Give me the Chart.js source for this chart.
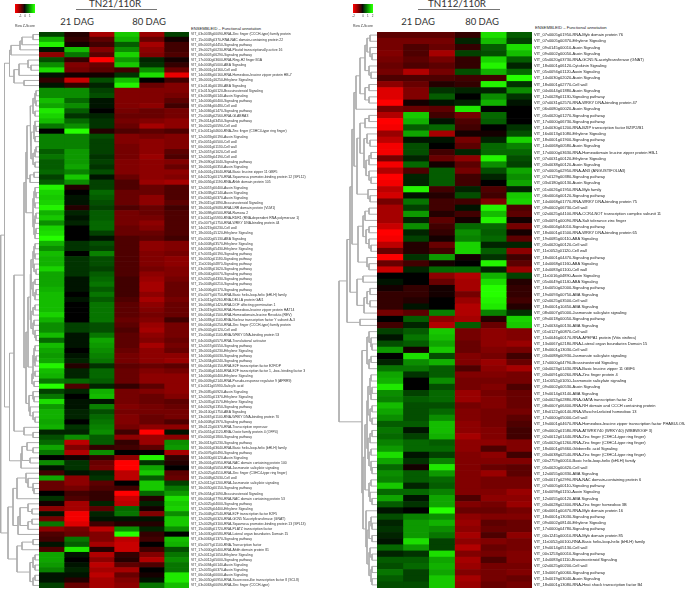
<!DOCTYPE html>
<html>
<head>
<meta charset="utf-8">
<title>TN21/110R and TN112/110R heatmaps</title>
<script src="https://cdn.jsdelivr.net/npm/chart.js@4"></script>
<style>
  html, body { margin: 0; padding: 0; background: #fff; }
  #page { position: relative; width: 685px; height: 589px; overflow: hidden; font-family: Lato, sans-serif; color: #333; }
  canvas { position: absolute; }
  .txt { position: absolute; white-space: nowrap; line-height: 1; }
  .title { font-size: 9.8px; transform: translateX(-50%); }
  .dag { font-size: 9.5px; transform: translateX(-50%); }
  .head { font-size: 4.1px; color: #222; font-family: "Liberation Sans", sans-serif; }
  .rule { position: absolute; height: 1px; background: #777; }
</style>
</head>
<body>
<div id="page">
  <div class="txt title" style="left:115px;top:-1px">TN21/110R</div>
  <div class="rule" style="left:76px;top:9px;width:81px"></div>
  <div class="txt dag" style="left:77px;top:17px">21 DAG</div>
  <div class="txt dag" style="left:149px;top:17px">80 DAG</div>
  <div class="txt head" style="left:191px;top:27px">ENSEMBLEID – Functional annotation</div>

  <div class="txt title" style="left:457px;top:-1px">TN112/110R</div>
  <div class="rule" style="left:418px;top:9px;width:82px"></div>
  <div class="txt dag" style="left:418px;top:17px">21 DAG</div>
  <div class="txt dag" style="left:482px;top:17px">80 DAG</div>
  <div class="txt head" style="left:535px;top:26px;font-size:4.2px">ENSEMBLEID – Functional annotation</div>
</div>
<script>
const leftLabels = [
  'VIT_03s0038g00090-RNA-Zinc finger (CCCH-type) family protein','VIT_15s0048g0370-RNA-NAC domain-containing protein 22','VIT_08s0007g04450-Signaling pathway','VIT_19s0027g00230-RNA-Plastid transcriptionally active 16','VIT_08s0007g06290-Signaling pathway','VIT_17s0000g03600-RNA-Ring-H2 finger B1A','VIT_04s0008g05000-ABA Signaling','VIT_18s0001g14160-Cell wall','VIT_14s0083g00160-RNA-Homeobox-leucine zipper protein HB-7','VIT_18s0001g16250-Ethylene Signaling',
  'VIT_01s0146g00180-ABA Signaling','VIT_01s0150g00120-Brassinosteroid Signaling','VIT_03s0038g00140-Auxin Signaling','VIT_14s0006g00400-Signaling pathway','VIT_05s0094g00480-Cell wall','VIT_14s0066g01470-Signaling pathway','VIT_25s0048g02560-RNA-GLABRA3','VIT_19s0014g03450-Signaling pathway','VIT_16s0022g00590-Cell wall','VIT_01s0011g04600-RNA-Zinc finger (C3HC4-type ring finger)',
  'VIT_12s0059g00190-Auxin Signaling','VIT_05s0051g00500-Cell wall','VIT_00s0001g01130-Cell wall','VIT_12s0057g01020-Cell wall','VIT_12s0059g04190-Cell wall','VIT_19s0090g01040-Signaling pathway','VIT_16s0001g00350-Auxin Signaling','VIT_04s0001g13040-RNA-Basic leucine zipper 11 GBF5','VIT_04s0210g00170-RNA-Squamosa promoter-binding protein 12 (SPL12)','VIT_06s0056g01190-RNA-Ahbh domain protein 105',
  'VIT_12s0057g00400-Auxin Signaling','VIT_03s0038g02140-Auxin Signaling','VIT_05s0062g00370-Auxin Signaling','VIT_19s0015g01890-Brassinosteroid Signaling','VIT_18s0001g09080-RNA-LRR domain protein (VLM1)','VIT_16s0098g00500-RNA-Ramosa 2','VIT_01s0011g05930-RNA-RDR1 (RNA-dependent RNA polymerase 1)','VIT_05s0077g01750-RNA-WRKY DNA-binding protein 44','VIT_14s0219g00230-Cell wall','VIT_18s0001g15120-Ethylene Signaling',
  'VIT_05s0020g05130-ABA Signaling','VIT_04s0008g03570-Ethylene Signaling','VIT_04s0008g05430-Ethylene Signaling','VIT_07s0031g00190-Signaling pathway','VIT_16s0050g01180-Signaling pathway','VIT_11s0016g04870-Signaling pathway','VIT_03s0038g01620-Signaling pathway','VIT_08s0040g00070-Signaling pathway','VIT_02s0025g04330-Signaling pathway','VIT_15s0048g00210-Signaling pathway',
  'VIT_14s0006g00170-Signaling pathway','VIT_05s0077g00750-RNA-Basic helix-loop-helix (bHLH) family','VIT_01s0011g05260-RNA-DELLA protein GAI1','VIT_16s0098g01420-RNA-DOF affecting germination 1','VIT_13s0019g00260-RNA-Homeobox-leucine zipper protein HAT14','VIT_06s0004g01500-RNA-Homeodomain-leucine Revoluta (REV)','VIT_14s0083g01140-RNA-Nuclear transcription factor Y subunit A-3','VIT_06s0004g00250-RNA-Zinc finger (CCCH-type) family protein','VIT_09s0002g00120-Cell wall','VIT_15s0046g01140-RNA-WRKY DNA-binding protein 53',
  'VIT_04s0043g00570-RNA-Translational activator','VIT_12s0057g00550-Signaling pathway','VIT_18s0001g00230-Ethylene Signaling','VIT_14s0006g00030-Signaling pathway','VIT_12s0034g00240-Signaling pathway','VIT_06s0054g00150-RNA-E2F transcription factor E2F/DP','VIT_15s0046g01440-RNA-E2F transcription factor 1, -box- binding factor 3','VIT_14s0006g00400-Ethylene Signaling','VIT_06s0009g02140-RNA-Pseudo-response regulator 9 (APRR9)','VIT_01s0011g05930-Salicylic acid',
  'VIT_19s0085g00920-Auxin Signaling','VIT_12s0055g01370-Ethylene Signaling','VIT_12s0035g01570-Ethylene Signaling','VIT_04s0023g01350-Signaling pathway','VIT_16s0100g01750-ABA Signaling','VIT_13s0067g01140-RNA-WRKY DNA-binding protein 70','VIT_04s0008g01970-Signaling pathway','VIT_18s0122g00370-RNA-Transcription repressor','VIT_05s0051g01120-RNA-Ovate family protein 4 (OFP4)','VIT_05s0002g01800-Signaling pathway',
  'VIT_16s0013g05230-Signaling pathway','VIT_16s0001g03640-RNA-Basic helix-loop-helix (bHLH) family','VIT_05s0076g00490-Signaling pathway','VIT_14s0030g00120-Auxin Signaling','VIT_18s0001g05950-RNA-NAC domain containing protein 100','VIT_06s0004g05050-RNA-Jasmonate salicylate signaling','VIT_02s0025g04510-RNA-Zinc finger (C3HC4-type ring finger)','VIT_15s0048g02030-Cell wall','VIT_02s0012g01200-RNA-Jasmonate salicylate signaling','VIT_16s0050g00150-Signaling pathway',
  'VIT_09s0054g01090-Brassinosteroid Signaling','VIT_06s0004g07790-RNA-NAC domain containing protein 53','VIT_02s0025g04000-Signaling pathway','VIT_12s0028g04400-Ethylene Signaling','VIT_15s0048g02540-RNA-E2F transcription factor E2F5','VIT_12s0028g00320-RNA-GCN5 N-acetyltransferase (GNAT)','VIT_12s0028g03100-RNA-Squamosa promoter-binding protein 13 (SPL13)','VIT_15s0048g01720-RNA-PLATZ transcription factor','VIT_14s0030g00580-RNA-Lateral organ boundaries Domain 15','VIT_03s0063g01370-Signaling pathway',
  'VIT_05s0077g01140-RNA-Transcription factor','VIT_17s0000g05400-RNA-Ahbh domain protein 81','VIT_02s0012g01050-Ethylene Signaling','VIT_02s0012g05000-Signaling pathway','VIT_05s0094g00140-Auxin Signaling','VIT_12s0055g00370-Auxin Signaling','VIT_06s0004g00000-Auxin Signaling','VIT_16s0050g00950-RNA-Scarecrow-like transcription factor 8 (SCL8)','VIT_03s0063g00090-RNA-Zinc finger (CCCH-type)'
];

// row z-scores, six columns (21 DAG x3, 80 DAG x3)
const leftZ = [
  [.4,-.2,-1.2,1.5,-1.1,.4],[1.3,-.3,-.6,1.3,-.7,-.1],[1.9,-.1,-.4,.6,-1.2,-.4],[.1,1.4,-.9,1.0,-1.0,-.4],[-1.0,.8,-.6,1.6,-.9,-.5],[.5,-.3,-2,1.1,.2,-.1],[1.0,-.9,-.7,1.5,.3,-.3],[1.7,-.8,-.6,-.4,1.0,-.7],[.1,-.1,-.1,.3,1.7,-1.8],[-.3,-1.5,.5,1.4,0,-.4],
  [.1,-.3,.2,1.9,-.7,-.9],[1.0,1.0,.4,-.9,-.9,-.9],[1.0,1.0,.5,-.9,-.9,-.8],[1.4,.7,.1,-.9,-.9,-.6],[1.2,1.0,.1,-.9,-1.0,-.4],[1.8,.6,0,-.8,-.7,-.8],[1.6,.3,.2,-.7,-.7,-.8],[1.4,.7,.3,-.8,-.9,-1],[.8,1.0,.3,-.7,-1.2,-1],[0,2,-.2,-.5,-.6,-.5],
  [.9,.9,.5,-.9,-.8,-.9],[.9,.9,.4,-.9,-1,-.9],[.9,.9,.4,-.8,-1,-.9],[.6,1.1,.4,-.8,-1,-.6],[.8,1.1,.3,-.8,-1.1,-.5],[.6,1.1,.4,-.9,-1,-.9],[.6,1.2,.3,-.9,-1,-.7],[.7,.9,.5,-.9,-1,-1],[.4,1.5,.1,-.7,-1,-.9],[.6,1.0,.4,-.5,-1.1,-1.2],
  [1.9,-.2,.4,-.5,-.7,-.5],[1.6,0,.7,-.7,-.7,-.5],[1.5,.1,.6,-.7,-1,-.5],[1.6,.1,.5,-.7,-1,-.6],[1.9,-.2,.4,-.5,-.7,-.4],[1.3,.2,.6,-.8,-.7,-.5],[1.5,.1,.6,-.8,-.8,-.5],[1.0,.2,.7,-.8,-1,-.5],[1.6,0,.7,-.7,-.9,-.5],[1.7,0,.4,-.7,-.7,-.5],
  [2,0,.1,-.5,-.6,-.4],[1.3,.3,.5,-.5,-1,-.9],[1.0,.3,.4,-.5,-1,-.9],[1.4,0,.9,-.5,-.9,-.8],[1.3,.3,.5,-.5,-.9,-1],[1.3,.3,.5,-.5,-.9,-1],[1.6,.3,.4,-.5,-.8,-.9],[1.2,.3,.6,-.5,-1,-.9],[1.2,.1,.7,-.4,-1.1,-.8],[1.2,.1,.8,-.4,-1.2,-.7],
  [1.3,.1,.6,-.4,-1.2,-.7],[1.4,0,.8,-.4,-1,-.7],[1.4,.1,.6,-.5,-1.2,-.8],[1.4,0,.8,-.6,-1,-.7],[1.4,0,.8,-.6,-.9,-.7],[1.6,0,.8,-.6,-.8,-.7],[1.3,0,.8,-.7,-.9,-.4],[1.0,.4,.5,-.6,-1.1,-.8],[1.0,.4,.5,-.5,-1.2,-.8],[1.4,.1,.8,-.6,-1,-.8],
  [.7,.1,1.2,-.6,-.9,-.7],[1.4,.1,1.1,-.6,-1.2,-.8],[1.2,0,1.0,-.7,-1,-.7],[1.1,.1,.9,-.8,-1,-1],[1.2,.2,.8,-.8,-1,-1.1],[1.9,-.2,.3,-.6,-.7,-.6],[1.4,.2,.7,-.7,-.9,-.8],[1.3,.2,.7,-.7,-1,-1],[.8,.7,.6,-.7,-1,-1],[2,-.5,.2,-.3,-.6,-1.0],
  [.4,.2,1.3,-.8,-.9,-1],[.8,0,1.4,-.8,-.7,-.9],[1.7,.1,.1,-.8,-.7,-.6],[1.1,.1,.9,-.9,-.8,-.7],[1.3,.2,.5,-.8,-.8,-.8],[1.3,.2,.7,-.9,-.7,-.8],[1.2,0,.8,-.9,-.7,-.5],[1.3,.3,.9,-.8,-1,-1],[.2,.2,1.0,-.4,-2,.1],[.5,1.0,.6,-1.0,-1.1,-1],
  [.7,-1.4,.6,-.3,-1.1,1.0],[1.2,-.9,-.3,-.4,-.6,1.1],[.8,-1.3,1.0,0,0,-1.2],[0,-.1,-.3,-1,1.9,-.3],[1.0,.3,-.7,-2,.3,-.2],[.1,.3,-.8,-2,1.2,0],[-.4,.1,.2,-1.4,1.5,-.6],[1.2,-1,.3,-1.4,.6,-.7],[-.7,-1,-.6,0,1.5,.4],[-.7,-.8,-.5,-.4,1.5,.8],
  [0,-.4,-.3,-2,.7,1.1],[.3,-.5,-.3,-1.5,-.2,1.7],[-.1,-1.2,.2,-1.4,.2,1.5],[-1,-1.2,-.6,.7,-.1,1.6],[.1,-1.9,.2,.8,-.9,1.0],[-.8,-1.9,.1,.1,.1,1.5],[.8,-1.7,-.4,-.2,-.2,1.5],[-1,-.8,-1.4,1.0,.2,1.0],[-.5,-.7,-.9,2,-.3,0],[-.4,.8,-.9,-1.4,-.4,1.4],
  [.1,.6,-1.2,-1.5,0,1.3],[-.5,1.8,-.2,-1.5,-.4,.5],[1.2,.1,-1.3,-.3,-.9,.8],[1.2,0,-1.0,-.2,-1.3,1.0],[1.1,.1,-1.4,-.6,-.5,.8],[.9,.2,-1.2,-1.2,0,.8],[.1,.1,-1.4,-.7,-.1,1.8],[.1,-.2,-1.2,-.9,.1,1.8],[.4,-.7,-1.2,-1.0,.8,1.4]
];

const rightLabels = [
  'VIT_07s0005g01950-RNA-Myb domain protein 76','VIT_07s0005g00370-Ethylene Signaling','VIT_09s0145g00010-Auxin Signaling','VIT_09s0002g00050-Auxin Signaling','VIT_05s0020g03730-RNA-GCN5 N-acetyltransferase (GNAT)','VIT_18s0001g06120-Cytokinin Signaling','VIT_05s0094g01120-Auxin Signaling','VIT_14s0030g02020-Auxin Signaling','VIT_18s0001g02770-Cell wall','VIT_04s0044g01880-Auxin Signaling',
  'VIT_12s0028g01130-Signaling pathway','VIT_07s0031g02570-RNA-WRKY DNA-binding protein 47','VIT_06s0080g00020-Auxin Signaling','VIT_05s0020g01270-Signaling pathway','VIT_17s0000g06730-Signaling pathway','VIT_14s0030g01200-RNA-BZIP transcription factor BZIP2/B1','VIT_16s0013g01080-Ethylene Signaling','VIT_18s0001g01900-Signaling pathway','VIT_14s0068g00580-Auxin Signaling','VIT_17s0000g03630-RNA-Homeodomain leucine zipper protein HB-1',
  'VIT_07s0031g00120-Ethylene Signaling','VIT_03s0038g00120-Auxin Signaling','VIT_07s0005g02950-RNA-AN3 (ANGUSTIFOLIA3)','VIT_07s0129g00380-Signaling pathway','VIT_03s0180g00130-Auxin Signaling','VIT_01s0026g01950-RNA-Myb family','VIT_06s0004g00120-Signaling pathway','VIT_14s0068g01770-RNA-WRKY DNA-binding protein 75','VIT_09s0002g06730-Cell wall','VIT_02s0025g04100-RNA-CCR4-NOT transcription complex subunit 11',
  'VIT_03s0091g00090-RNA-Salt tolerance zinc finger','VIT_06s0004g04010-Signaling pathway','VIT_18s0001g01500-RNA-WRKY DNA-binding protein 65','VIT_19s0085g00110-ABA Signaling','VIT_05s0020g00120-Cell wall','VIT_11s0052g01120-Cell wall','VIT_18s0001g04470-Signaling pathway','VIT_14s0068g01160-ABA Signaling','VIT_14s0083g01100-Cell wall','VIT_11s0016g04890-Auxin Signaling',
  'VIT_05s0049g01140-ABA Signaling','VIT_16s0050g02000-Signaling pathway','VIT_19s0093g00750-ABA Signaling','VIT_02s0025g03500-Cell wall','VIT_18s0001g10450-ABA Signaling','VIT_08s0007g05000-Jasmonate salicylate signaling','VIT_09s0018g00050-Signaling pathway','VIT_12s0034g00130-ABA Signaling','VIT_01s0127g00870-Cell wall','VIT_15s0046g00170-RNA-APEPA1 protein (Vitis vinifera)',
  'VIT_13s0067g02180-RNA-Lateral organ boundaries Domain 15','VIT_18s0001g13030-Cell wall','VIT_03s0088g00930-Jasmonate salicylate signaling','VIT_17s0000g04790-Brassinosteroid Signaling','VIT_04s0023g01430-RNA-Basic leucine zipper 11 GBF6','VIT_03s0091g00260-RNA-Zinc finger protein 4','VIT_11s0052g01050-Jasmonate salicylate signaling','VIT_09s0002g00530-Auxin Signaling','VIT_19s0014g03140-ABA Signaling','VIT_04s0023g02880-RNA-GATA transcription factor 24',
  'VIT_08s0007g06400-RNA-RH domain and CCCH containing protein','VIT_18s0122g00140-RNA-Wuschel-related homeobox 13','VIT_17s0000g05000-Cell wall','VIT_19s0001g04670-RNA-Homeobox-leucine zipper transcription factor PHABULOSA','VIT_09s0002g01580-RNA-ATWRKY40 (WRKY40) (WBBWOGF 3)','VIT_02s0012g01440-RNA-Zinc finger (C3HC4-type ring finger)','VIT_05s0020g01260-RNA-Zinc finger (C3HC4-type ring finger)','VIT_18s0001g09460-Gibberellic acid Signaling','VIT_03s0038g02540-RNA-Zinc finger (C3HC4-type ring finger)','VIT_00s2759g00010-Basic helix-loop-helix (bHLH) family',
  'VIT_05s0020g00420-Cell wall','VIT_12s0055g00330-ABA Signaling','VIT_03s0017g02990-RNA-NAC domain-containing protein 6','VIT_07s0005g00110-Signaling pathway','VIT_16s0098g01150-Auxin Signaling','VIT_12s0055g00120-ABA Signaling','VIT_03s0028g02400-RNA-Zinc finger homeobox 3B','VIT_06s0061g00470-RNA-Myb domain protein 16','VIT_18s0001g13030-Signaling pathway','VIT_09s0002g08140-Ethylene Signaling',
  'VIT_17s0000g04780-Signaling pathway','VIT_00s1245g00010-RNA-Myb domain protein 85','VIT_11s0052g00100-RNA-Basic helix-loop-helix (bHLH) family','VIT_19s0014g05130-Cell wall','VIT_00s1253g00010-Signaling pathway','VIT_14s0083g01110-Brassinosteroid Signaling','VIT_02s0025g00200-Cell wall','VIT_13s0067g00060-Signaling pathway','VIT_13s0019g03040-Auxin Signaling','VIT_18s0001g13080-RNA-Heat shock transcription factor B4'
];

const rightZ = [
  [-.6,-.6,-.6,-.3,1.7,.6],[-.8,-.8,-.8,.2,1.4,.4],[-.8,-.5,-.7,-.3,.6,1.7],[-.9,-.5,-1.2,.4,.5,1.4],[-.8,-.6,-.8,-.3,1.6,.6],[-.7,-.5,-.6,-.3,1.9,.2],[-.8,-1.3,-.8,.5,1.3,.7],[-.5,-.5,-.5,-.4,-.4,2],[-1.0,-.7,-.2,-.3,1.9,.3],[-1.7,-.9,.3,.2,.2,1.0],
  [-1.7,-.9,.6,0,1.0,.3],[-2,-.1,.1,.2,1.3,.1],[-.8,-.7,-.6,1.8,0,0],[-1.3,1.5,-.4,-.8,.7,0],[-2,1.3,.1,-.5,.6,0],[-1.9,.6,.7,-.4,0,.3],[-1.1,1.2,-1.2,-.1,-.1,.5],[-1.4,.1,.1,-.8,.2,1.6],[-1.9,.5,0,-.6,.7,.9],[-1.9,.5,-.4,.2,.7,.7],
  [-.8,.2,-.7,-1.0,1.9,.5],[-1.9,.7,-.1,-.6,1.0,.4],[-1.3,-.5,.6,-.8,.5,1.2],[-2,.2,.6,-.4,.2,1.0],[-1.9,.2,.6,-.4,0,1.2],[-1.4,1.9,-.4,.2,-.5,.2],[-1.6,.1,-.2,.5,-.4,1.5],[-.8,.8,-.4,-.4,-.9,1.6],[-1.2,.4,-.4,.1,1.9,-.5],[-1.2,1.1,-.2,-.4,1.4,-.6],
  [-1.2,.2,-.6,-.1,1.9,-.1],[-1.5,1.0,-.4,.7,.7,-.8],[-2,.2,-.3,1.0,.6,-.1],[-1.9,.4,-.1,.9,.7,-.6],[-1.4,-.2,-.7,1.6,.2,.2],[-.7,-.2,-.4,1.6,.6,-1.0],[-2,.3,1.1,-.1,.3,-.4],[-.7,-.4,-.1,0,1.9,-.6],[-1.5,.2,.7,.7,.2,-1.1],[0,0,-1.0,-1.3,1.3,.4],
  [.1,0,-.7,-1.2,1.7,-.2],[-.1,-.3,-.1,-1.2,2,-.3],[-.3,-.3,-.1,-.8,2,-.3],[-.3,-.2,0,-1.1,1.9,-.4],[-.3,.1,0,-1.3,1.8,-.2],[-.8,-.6,.9,-1.3,.9,.3],[0,.6,-1.0,-1.2,-.2,1.6],[-.4,.2,-1.3,.6,-.7,1.5],[.4,.6,1.5,-.8,-1.0,-.9],[.1,.8,1.4,-.8,-1.0,-.9],
  [.5,.6,1.2,-.7,-1.0,-1.1],[1.1,-.1,1.5,-.7,-.9,-.8],[0,1.7,.5,-.9,-.8,-.4],[.2,1.0,1.3,-.9,-1.1,-.7],[.8,.8,.6,-.5,-1.0,-1.2],[1.2,.3,.6,-.9,-.9,-.8],[1.3,0,1.0,-.8,-.8,-.8],[1.8,0,.5,-.8,-.9,-.5],[1.0,.4,.7,-1.1,-.8,-.7],[.9,.6,.7,-1.1,-.9,-.7],
  [1.4,.5,.5,-.8,-.9,-.7],[1.2,.5,.7,-.9,-.8,-.8],[1.0,.5,1.0,-.9,-.8,-.6],[.6,.6,1.4,-1,-.8,-.5],[.8,.1,1.4,-1,-.9,-.4],[.7,.4,1.3,-1.2,-.9,-.4],[.9,.7,.6,-1.0,-1,-.9],[1.1,.7,.7,-1.0,-.5,-.9],[1.7,.1,.4,-.9,-1.0,-.4],[1.2,.3,.9,-.9,-.9,-.9],
  [.7,-.1,1.8,-.9,-.7,-.6],[1.0,.6,1.1,-.9,-1.1,-.6],[.9,.6,.7,-.9,-.8,-.8],[1.5,.2,.6,-.9,-.8,-.8],[.7,.7,.9,-.9,-.9,-1.1],[1.2,.1,1.2,-.5,-1.0,-1.0],[.6,.3,1.2,-.9,-.8,-1.1],[.1,0,2,-.7,-.7,-.8],[.5,.9,1.0,-1.0,-.9,-.9],[.2,1.1,1.3,-1.1,-.6,-.7],
  [.3,1.1,1.0,-1.0,-.7,-.7],[.2,1.1,.8,-1.2,-.5,-1.0],[.1,1.7,.4,-1,-.9,-.8],[.7,1.1,.4,-1.3,-.7,-.8],[.2,.3,1.7,-.9,-.8,-.9],[.6,.6,1.2,-1.2,-.5,-.9],[.5,.7,1.3,-1.1,-.8,-.8],[.8,.4,1.2,-.9,-.8,-.9],[.6,.4,1.5,-1.2,-.8,-.7],[.5,.5,1.5,-1.1,-.7,-.8]
];

// dendrograms: [height, left, right], 0 = next leaf row
const leftTree =
[0.7,
  [4.5,
    [9.5,
      [11,[20,[22,[33,0,0],0],0],0],
      [14,[19,[28,0,[31,0,0]],0],[24,0,0]]],
    [9.5,
      [14,
        [24,
          [26,
            [27,
              [30,[33,[35,[36,0,0],[36,0,0]],[35,0,0]],
                  [31,[34,[35,0,[36,0,0]],[35,0,0]],[33,[35,[36,0,0],0],[35,0,0]]]],
              [30,[34,0,0],0]],
            [33,[34,[35,0,[36,0,0]],[35,0,0]],[34,[35,[36,0,0],0],[35,[36,0,0],0]]]],
          [26,
            [28,
              [30,
                [31,[33,[34,[35,0,0],[35,0,0]],[34,0,[36,0,0]]],[33,[35,0,0],[35,[36,0,0],0]]],
                [31,[33,[35,0,0],0],[33,[34,0,0],[35,0,[36,0,0]]]]],
              [33,[34,[35,0,0],[35,[36,0,0],0]],[32,[35,0,0],[34,0,0]]]],
            [29,[33,0,[34,0,0]],[30,0,[33,0,[35,0,0]]]]]],
        [24,0,[33,0,0]]],
      [21,[22,[27,0,[33,0,0]],[30,0,0]],0]]],
  [8,
    [13,
      [17,[26,0,[28,0,[33,0,[34,0,0]]]],0],
      [18,[20,[28,0,[32,0,0]],[28,[32,0,0],0]],0]],
    [17,[22,[33,0,0],0],[30,[33,[35,0,0],[35,0,0]],[33,[35,0,0],0]]]]];

const rightTree =
[3,
  [11,
    [14,
      [16,
        [18,
          [20,
            [24,
              [29,[31,[34,0,0],[34,0,[36,0,0]]],[33,0,[35,0,0]]],
              [29,[33,0,0],[33,0,0]]],
            0],
          [21,
            [24,
              [29,[33,0,0],0],
              [28,[31,0,[34,0,0]],[30,[33,[35,0,0],0],[33,0,[35,0,0]]]]],
            [32,0,[34,0,0]]]],
        [22,
          [27,[29,[33,0,0],0],[30,[33,0,0],[33,0,[35,0,0]]]],
          [31,0,[33,0,0]]]],
      [21,[27,0,0],[28,[31,[34,0,0],[34,0,0]],0]]],
    [24,0,0]],
  [26,
    [31,[33,0,[35,0,[36,0,0]]],[33,[35,0,0],0]],
    [27,
      [29,
        [31,
          [32,[34,[35,0,0],[35,[36,0,0],0]],[34,[36,0,0],[36,0,0]]],
          [32,[34,[36,0,0],0],[33,[35,0,0],[35,0,[36,0,0]]]]],
        [33,[35,0,0],[34,0,[36,0,0]]]],
      [30,0,[31,[33,[35,0,[36,0,0]],[36,0,0]],[33,[34,0,[36,0,0]],[35,[36,0,0],[36,0,0]]]]]]]];

const keyStops = [-2,-1.8,-1.6,-1.4,-1.2,-1,-.8,-.6,-.4,-.2,0,.2,.4,.6,.8,1,1.2,1.4,1.6,1.8,2];
const leftKeyTicks = [-1,0,1];
const rightKeyTicks = [-2,0,1,2];

const page = document.getElementById('page');

function addCanvas(x, y, w, h) {
  const c = document.createElement('canvas');
  c.style.left = x + 'px';
  c.style.top = y + 'px';
  c.style.width = w + 'px';
  c.style.height = h + 'px';
  c.width = w;
  c.height = h;
  page.appendChild(c);
  return c;
}

// red - black - green, saturates at +-2
function zColor(z) {
  const v = Math.min(1, Math.abs(z) / 2);
  const c = Math.round(Math.pow(v, 0.85) * 255);
  if (z < 0) return `rgb(${c},0,0)`;
  return `rgb(${Math.round(c * v * 0.15)},${c},0)`;
}

function treeLines(tree, edge) {
  const pts = [];
  let leaf = 0;
  const walk = (n) => {
    if (n === 0) { leaf++; return { x: edge, y: leaf - 0.5 }; }
    const a = walk(n[1]);
    const b = walk(n[2]);
    pts.push({ x: a.x, y: a.y }, { x: n[0], y: a.y }, { x: n[0], y: b.y }, { x: b.x, y: b.y }, { x: NaN, y: NaN });
    return { x: n[0], y: (a.y + b.y) / 2 };
  };
  walk(tree);
  return pts;
}

function drawDendro(tree, rows, left, edge) {
  new Chart(addCanvas(left, 32, edge, 556), {
    type: 'scatter',
    data: {
      datasets: [{
        data: treeLines(tree, edge),
        showLine: true,
        spanGaps: false,
        borderColor: '#adadad',
        borderWidth: 1,
        pointRadius: 0,
        clip: false
      }]
    },
    options: {
      responsive: false,
      animation: false,
      layout: { autoPadding: false },
      plugins: { legend: { display: false }, tooltip: { enabled: false } },
      scales: {
        x: { type: 'linear', min: 0, max: edge, display: false },
        y: { type: 'linear', min: 0, max: rows, reverse: true, display: false }
      }
    }
  });
}

function drawHeat(labels, z, left, heatW, canvasW, fontSize, color) {
  const datasets = [0, 1, 2, 3, 4, 5].map(col => ({
    data: z.map(() => 1),
    backgroundColor: z.map(r => zColor(r[col])),
    borderWidth: 0,
    barPercentage: 1,
    categoryPercentage: 1
  }));
  new Chart(addCanvas(left, 32, canvasW, 556), {
    type: 'bar',
    data: { labels: labels, datasets: datasets },
    options: {
      indexAxis: 'y',
      responsive: false,
      animation: false,
      layout: { autoPadding: false },
      plugins: { legend: { display: false }, tooltip: { enabled: false } },
      scales: {
        x: { stacked: true, min: 0, max: 6, display: false },
        y: {
          stacked: true,
          position: 'right',
          afterFit: s => { s.width = canvasW - heatW; s.paddingTop = 0; s.paddingBottom = 0; },
          grid: { display: false, drawTicks: false },
          border: { display: false },
          ticks: {
            autoSkip: false,
            padding: 2,
            crossAlign: 'near',
            font: { size: fontSize, family: '"Liberation Sans", sans-serif' },
            color: color
          }
        }
      }
    }
  });
}

function drawKey(x, ticks) {
  new Chart(addCanvas(x - 6, 4, 32, 24), {
    type: 'bar',
    data: {
      labels: keyStops,
      datasets: [{
        data: keyStops.map(() => 1),
        backgroundColor: keyStops.map(zColor),
        borderWidth: 0,
        barPercentage: 1,
        categoryPercentage: 1
      }]
    },
    options: {
      responsive: false,
      animation: false,
      layout: { padding: { left: 6, right: 6 }, autoPadding: false },
      plugins: { legend: { display: false }, tooltip: { enabled: false } },
      scales: {
        y: { min: 0, max: 1, display: false },
        x: {
          afterFit: s => { s.height = 15; },
          grid: { display: false, drawTicks: true, tickLength: 1.5 },
          border: { display: false },
          title: { display: true, text: 'Row Z-Score', font: { size: 3.5 }, color: '#333', padding: { top: 3, bottom: 0 } },
          ticks: {
            autoSkip: false,
            maxRotation: 0,
            padding: 0,
            font: { size: 3 },
            color: '#333',
            callback: function (v) {
              const lab = this.getLabelForValue(v);
              return ticks.includes(Number(lab)) ? lab : '';
            }
          }
        }
      }
    }
  });
}

drawKey(15, leftKeyTicks);
drawDendro(leftTree, leftZ.length, 0, 39);
drawHeat(leftLabels, leftZ, 39, 150, 298, 3.45, '#333');

drawKey(353, rightKeyTicks);
drawDendro(rightTree, rightZ.length, 336, 41);
drawHeat(rightLabels, rightZ, 377, 155, 308, 4, '#222');
</script>
</body>
</html>
